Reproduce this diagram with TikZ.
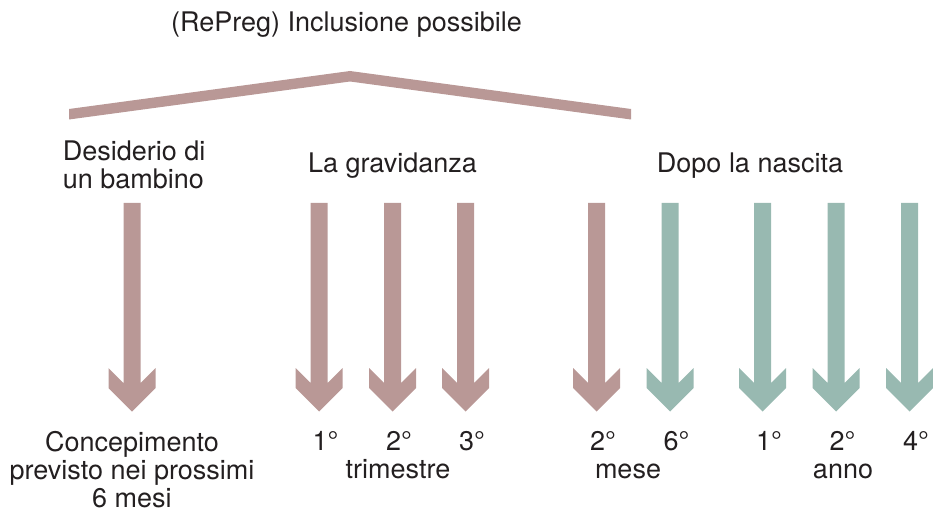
\documentclass[tikz,border=0pt]{standalone}
\usepackage{fontspec}
\setmainfont{TeX Gyre Heros}
\definecolor{rose}{HTML}{B99896}
\definecolor{sage}{HTML}{98B9B1}
\definecolor{ink}{HTML}{231F20}
\newcommand{\blockarr}[2]{%
  \fill[#2] (#1) ++(-8.5,0) -- ++(0,180) -- ++(-15,-15) -- ++(0,20)
    -- ++(23.5,23.5) -- ++(23.5,-23.5) -- ++(0,-20) -- ++(-15,15) -- ++(0,-180) -- cycle;}

\begin{document}
\begin{tikzpicture}[x=1pt,y=-1pt,
    lbl/.style={text=ink,inner sep=0pt,anchor=base,align=center,
      font=\fontsize{27}{28}\selectfont},
    num/.style={lbl,xshift=6.5pt}]
        \useasboundingbox (0,0) rectangle (933,521);

        % bracket over the first two groups
        \fill[rose] (69,109) -- (350,71) -- (631,109) -- (631,119.5) -- (350,81.5) -- (69,119.5) -- cycle;
        \node[lbl] (title) at (346.5,31.7) {(RePreg) Inclusione possibile};

        % headings
        \node[lbl,anchor=base west,align=left] (wish) at (62.7,189) {Desiderio di\\un bambino};
        \node[lbl] (preg) at (392.5,172.7) {La gravidanza};
        \node[lbl] (after) at (750,172.7) {Dopo la nascita};

        % arrows
        \coordinate (aw) at (132,203);
        \coordinate (ap1) at (319,203);
        \coordinate (ap2) at (392.5,203);
        \coordinate (ap3) at (465.5,203);
        \coordinate (am2) at (596.5,203);
        \coordinate (am6) at (670,203);
        \coordinate (ay1) at (762.5,203);
        \coordinate (ay2) at (836,203);
        \coordinate (ay4) at (909.5,203);
        \blockarr{aw}{rose}
        \blockarr{ap1}{rose}
        \blockarr{ap2}{rose}
        \blockarr{ap3}{rose}
        \blockarr{am2}{rose}
        \blockarr{am6}{sage}
        \blockarr{ay1}{sage}
        \blockarr{ay2}{sage}
        \blockarr{ay4}{sage}

        % bottom labels
        \node[lbl] (concept) at (132,507) {Concepimento\\previsto nei prossimi\\6 mesi};
        \node[num] (t1) at (319,450) {1°};
        \node[num] (t2) at (392.5,450) {2°};
        \node[num] (t3) at (465.5,450) {3°};
        \node[lbl] (trim) at (398,478) {trimestre};
        \node[num] (m2) at (596.5,450) {2°};
        \node[num] (m6) at (670,450) {6°};
        \node[lbl] (mese) at (628,478) {mese};
        \node[num] (y1) at (762.5,450) {1°};
        \node[num] (y2) at (836,450) {2°};
        \node[num] (y4) at (909.5,450) {4°};
        \node[lbl] (anno) at (843,478) {anno};
    \end{tikzpicture}
\end{document}
